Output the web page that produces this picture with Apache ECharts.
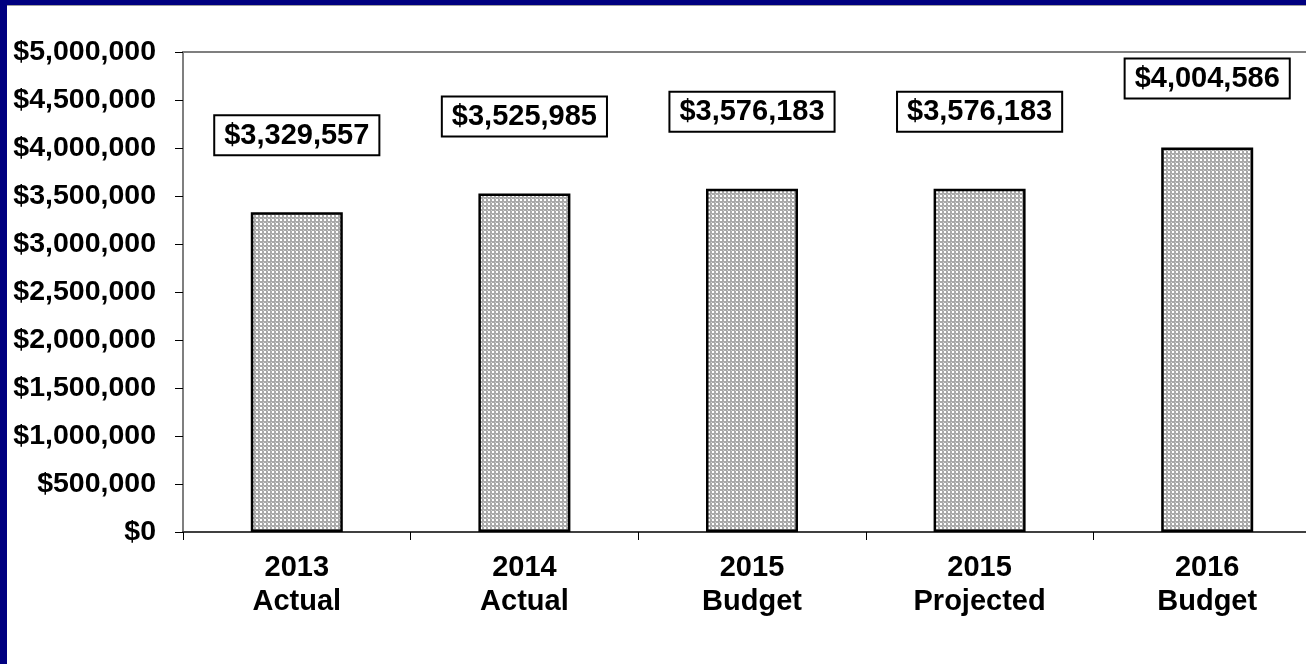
<!DOCTYPE html>
<html>
<head>
<meta charset="utf-8">
<style>
  html, body { margin: 0; padding: 0; width: 1306px; height: 664px; overflow: hidden; background: #000080; }
  #frame { position: absolute; left: 7px; top: 5px; width: 1299px; height: 659px; background: #ffffff; border-top: 1px solid #a0a0a0; box-sizing: border-box; overflow: hidden; }
  /* the plot runs a little past the right edge of the frame */
  #chart { position: absolute; left: 0; top: 0; width: 1314px; height: 658px; }
</style>
<script src="https://cdn.jsdelivr.net/npm/echarts@6/dist/echarts.min.js"></script>
</head>
<body>
<div id="frame"><div id="chart"></div></div>
<script>
// Budget history by period
const categories = ['2013\nActual', '2014\nActual', '2015\nBudget', '2015\nProjected', '2016\nBudget'];
const amounts = [3329557, 3525985, 3576183, 3576183, 4004586];
const yTicks = { min: 0, max: 5000000, interval: 500000 };

const money = v => '$' + Number(v).toLocaleString('en-US');

// dotted grey fill for the columns
function dotPattern() {
  const c = document.createElement('canvas');
  c.width = 4; c.height = 4;
  const g = c.getContext('2d');
  g.fillStyle = '#a9a9a9';
  g.fillRect(0, 0, 4, 4);
  g.fillStyle = '#d0d0d0';
  g.fillRect(0, 0, 1, 1); g.fillRect(2, 2, 1, 1);
  g.fillStyle = '#ffffff';
  g.fillRect(1, 1, 2, 2);
  return c;
}

const fill = { image: dotPattern(), repeat: 'repeat' };
const FONT = '"Liberation Sans", Arial, sans-serif';

const chart = echarts.init(document.getElementById('chart'), null, { renderer: 'canvas' });

const barData = amounts.map((v, i) => ({
  value: v,
  label: { distance: i === amounts.length - 1 ? 50 : 58 }
}));

chart.setOption({
  animation: false,
  backgroundColor: '#ffffff',
  grid: {
    left: 176, top: 46, right: 0, bottom: 132,
    show: true, borderColor: '#7f7f7f', borderWidth: 2, backgroundColor: 'transparent'
  },
  xAxis: {
    type: 'category',
    data: categories,
    boundaryGap: true,
    axisLine: { lineStyle: { color: '#404040', width: 2 } },
    axisTick: { show: true, length: 8, lineStyle: { color: '#000', width: 1 } },
    axisLabel: {
      margin: 19, color: '#000', fontFamily: FONT, fontWeight: 'bold',
      fontSize: 29, lineHeight: 34, interval: 0
    }
  },
  yAxis: {
    type: 'value',
    min: yTicks.min, max: yTicks.max, interval: yTicks.interval,
    axisLine: { show: true, lineStyle: { color: '#7f7f7f', width: 2 } },
    axisTick: { show: true, length: 8, lineStyle: { color: '#000', width: 1 } },
    splitLine: { show: false },
    axisLabel: {
      margin: 27, color: '#000', fontFamily: FONT, fontWeight: 'bold', fontSize: 28.5,
      formatter: money
    }
  },
  series: [{
    type: 'bar',
    data: barData,
    barWidth: 92,
    itemStyle: { color: fill, borderColor: '#000', borderWidth: 2.5 },
    label: {
      show: true,
      position: 'top',
      formatter: p => money(p.value),
      color: '#000',
      fontFamily: FONT,
      fontWeight: 'bold',
      fontSize: 29,
      backgroundColor: '#ffffff',
      borderColor: '#000',
      borderWidth: 2,
      padding: [5, 9, 4, 9]
    }
  }]
});
</script>
</body>
</html>
